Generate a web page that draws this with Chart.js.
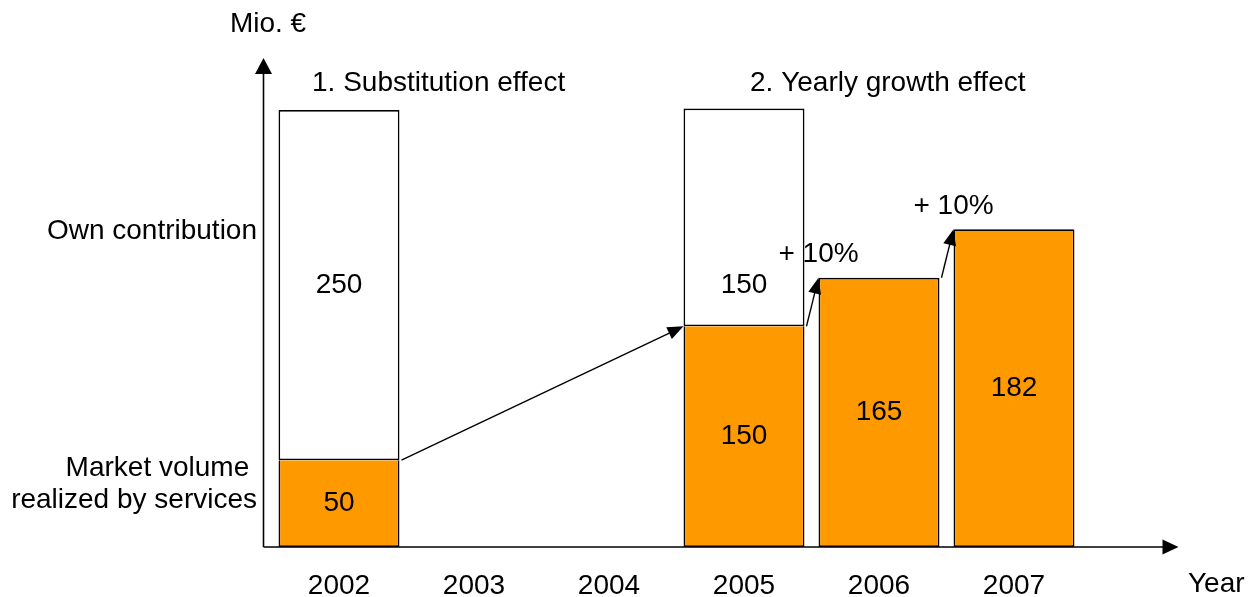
<!DOCTYPE html>
<html>
<head>
<meta charset="utf-8">
<script src="https://cdn.jsdelivr.net/npm/chart.js@4.4.1/dist/chart.umd.min.js"></script>
<style>
  html, body { margin: 0; padding: 0; background: #fff; }
  #wrap { width: 1253px; height: 597px; position: relative; }
</style>
</head>
<body>
<div id="wrap"><canvas id="effectChart"></canvas></div>
<script>
// years on the x axis
var years = ['2002', '2003', '2004', '2005', '2006', '2007'];

// bar heights as drawn (the picture is schematic, not to scale), Mio. €
var serviceHeights = [59, null, null, 150, 183, 216];
var ownHeights = [238, null, null, 148, null, null];

// figures written inside the bars
var serviceLabels = ['50', '', '', '150', '165', '182'];
var ownLabels = ['250', '', '', '150', '', ''];

// arrows between bars (from, to) and the caption near each arrow
var arrowLinks = [[0, 3], [3, 4], [4, 5]];
var arrowCaptions = ['', '+ 10%', '+ 10%'];

var FONT = '28px "Liberation Sans", Arial, sans-serif';
var ORANGE = '#FF9900';

Chart.defaults.font.family = '"Liberation Sans", Arial, sans-serif';
Chart.defaults.font.size = 28;
Chart.defaults.color = '#000';

function drawHead(ctx, x1, y1, x2, y2, len, half) {
    var a = Math.atan2(y2 - y1, x2 - x1);
    var c = Math.cos(a), s = Math.sin(a);
    ctx.beginPath();
    ctx.moveTo(x2, y2);
    ctx.lineTo(x2 - len * c + half * s, y2 - len * s - half * c);
    ctx.lineTo(x2 - len * c - half * s, y2 - len * s + half * c);
    ctx.closePath();
    ctx.fill();
}

function drawArrow(ctx, x1, y1, x2, y2, len, half) {
    var a = Math.atan2(y2 - y1, x2 - x1);
    ctx.beginPath();
    ctx.moveTo(x1, y1);
    ctx.lineTo(x2 - len * 0.8 * Math.cos(a), y2 - len * 0.8 * Math.sin(a));
    ctx.stroke();
    drawHead(ctx, x1, y1, x2, y2, len, half);
}

// 축, 화살표, 글자
var decorations = {
    id: 'decorations',
    afterDatasetsDraw: function(chart) {
        var ctx = chart.ctx;
        var area = chart.chartArea;
        var service = chart.getDatasetMeta(0).data;
        var own = chart.getDatasetMeta(1).data;

        ctx.save();
        ctx.fillStyle = '#000';
        ctx.strokeStyle = '#000';
        ctx.lineWidth = 1.6;

        // axes with arrow heads
        var ax = area.left - 8;
        drawArrow(ctx, ax, area.bottom, ax, area.top - 2, 16, 8.5);
        drawArrow(ctx, ax, area.bottom, area.right + 97, area.bottom, 16, 7.5);

        // arrows from bar to bar
        ctx.lineWidth = 1.4;
        arrowLinks.forEach(function(link, k) {
            var a = service[link[0]], b = service[link[1]];
            var x1 = a.x + a.width / 2 + 2, y1 = a.y;
            var x2 = b.x - b.width / 2, y2 = b.y;
            drawArrow(ctx, x1, y1, x2, y2, 16, 6.5);
            if (arrowCaptions[k]) {
                ctx.font = FONT;
                ctx.textAlign = 'center';
                ctx.textBaseline = 'middle';
                ctx.fillText(arrowCaptions[k], x2, y2 - 23);
            }
        });

        // figures inside the bars
        ctx.font = FONT;
        ctx.textAlign = 'center';
        ctx.textBaseline = 'middle';
        service.forEach(function(bar, i) {
            if (serviceLabels[i]) ctx.fillText(serviceLabels[i], bar.x, (bar.y + bar.base) / 2);
        });
        // own-contribution figures sit on one row
        var ownRow = (own[0].y + own[0].base) / 2;
        own.forEach(function(bar, i) {
            if (ownLabels[i]) ctx.fillText(ownLabels[i], bar.x, ownRow);
        });

        // side notes
        ctx.textAlign = 'center';
        ctx.fillText('Mio. €', 268, 24);
        ctx.textAlign = 'left';
        ctx.fillText('1. Substitution effect', 312, 83);
        ctx.fillText('2. Yearly growth effect', 750, 83);
        ctx.fillText('Year', 1188, 584);
        ctx.textAlign = 'right';
        ctx.fillText('Own contribution', 257, 231);
        ctx.fillText('Market volume ', 257, 468);
        ctx.fillText('realized by services', 257, 500);
        ctx.restore();
    }
};

var ctx = document.getElementById('effectChart').getContext('2d');
var effectChart = new Chart(ctx, {
    type: 'bar',
    data: {
        labels: years,
        datasets: [{
            label: 'Market volume realized by services',
            data: serviceHeights,
            backgroundColor: ORANGE,
            borderColor: '#000',
            borderWidth: 1.7,
            // the white block on top draws the shared edge
            borderSkipped: function(c) { return ownHeights[c.dataIndex] ? 'top' : false; }
        }, {
            label: 'Own contribution',
            data: ownHeights,
            backgroundColor: '#fff',
            borderColor: '#000',
            borderWidth: 1.7,
            borderSkipped: false
        }]
    },
    options: {
        responsive: true,
        maintainAspectRatio: false,
        animation: false,
        layout: { padding: { left: 271.5, right: 171.5, top: 60, bottom: 0 } },
        datasets: { bar: { categoryPercentage: 1, barPercentage: 0.896 } },
        plugins: { legend: { display: false }, tooltip: { enabled: false } },
        scales: {
            x: {
                stacked: true,
                grid: { display: false },
                border: { display: false },
                ticks: { padding: 14, color: '#000' },
                afterFit: function(scale) { scale.height = 50; }
            },
            y: {
                stacked: true,
                display: false,
                min: 0,
                max: 331
            }
        }
    },
    plugins: [decorations]
});
</script>
</body>
</html>
